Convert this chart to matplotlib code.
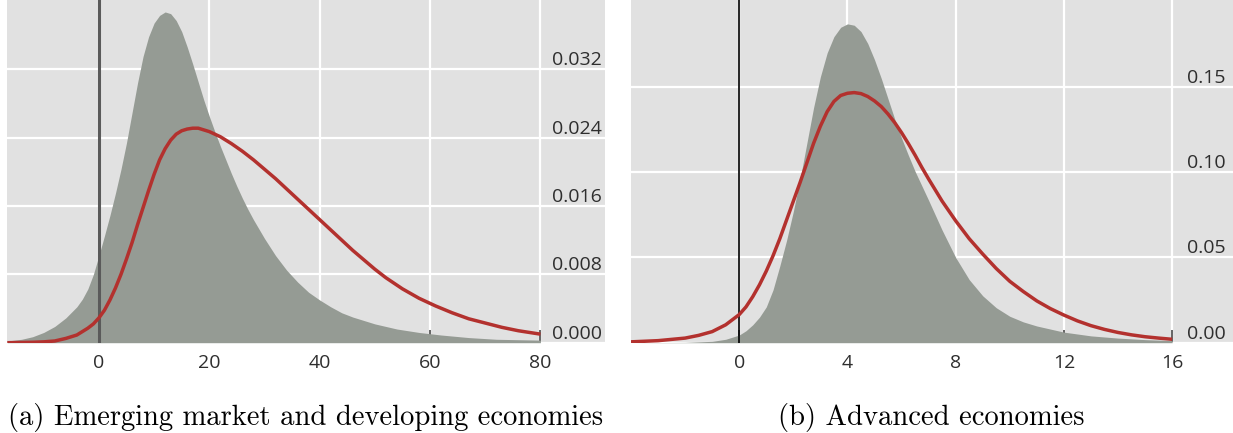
import matplotlib
matplotlib.use("Agg")
import matplotlib.pyplot as plt

# densidades (a): economias emergentes
em_x_fill = [-16.6, -14, -12, -10, -8, -6, -4, -3, -2, -1, 0, 1, 2, 3, 4, 5, 6, 7, 8, 9, 10, 11,
             12, 13, 14, 15, 16, 17, 18, 19, 20, 21, 22, 23, 24, 25, 26, 27, 28, 29, 30, 32, 34,
             36, 38, 40, 42, 44, 46, 48, 50, 54, 58, 62, 67, 72, 80]
em_fill = [0.0002, 0.0004, 0.0007, 0.0012, 0.0019, 0.0029, 0.0042, 0.0051, 0.0063, 0.0080, 0.0102,
           0.0125, 0.0149, 0.0175, 0.0203, 0.0234, 0.0269, 0.0304, 0.0335, 0.0358, 0.0374, 0.0383,
           0.0387, 0.0385, 0.0377, 0.0364, 0.0346, 0.0326, 0.0305, 0.0284, 0.0265, 0.0247, 0.0230,
           0.0214, 0.0198, 0.0183, 0.0169, 0.0156, 0.0144, 0.0133, 0.0122, 0.0102, 0.0085, 0.0071,
           0.0059, 0.0050, 0.0042, 0.0035, 0.0030, 0.0026, 0.0022, 0.0016, 0.0012, 0.0009, 0.0006,
           0.0004, 0.0003]
em_x_line = [-16.6, -12, -10, -8, -6, -4, -2, -1, 0, 1, 2, 3, 4, 5, 6, 7, 8, 9, 10, 11, 12, 13, 14,
             15, 16, 17, 18, 19, 20, 22, 24, 26, 28, 30, 32, 34, 36, 38, 40, 42, 44, 46, 48, 50, 52,
             55, 58, 61, 64, 67, 70, 73, 76, 80]
em_line = [0.0000, 0.00005, 0.0001, 0.0002, 0.0005, 0.0009, 0.0017, 0.0022, 0.0029, 0.0038, 0.0050,
           0.0064, 0.0080, 0.0098, 0.0117, 0.0138, 0.0158, 0.0178, 0.0197, 0.0214, 0.0227, 0.0237,
           0.0244, 0.0248, 0.0250, 0.0251, 0.0251, 0.0249, 0.0247, 0.0241, 0.0233, 0.0224, 0.0214,
           0.0203, 0.0192, 0.0180, 0.0168, 0.0156, 0.0144, 0.0132, 0.0120, 0.0108, 0.0097, 0.0086,
           0.0076, 0.0063, 0.0052, 0.0043, 0.0035, 0.0028, 0.0023, 0.0018, 0.0014, 0.0010]

# figura (b): economias avancadas
ae_x_fill = [-4, -3, -2, -1, -0.5, 0, 0.25, 0.5, 0.75, 1, 1.25, 1.5, 1.75, 2, 2.25, 2.5, 2.75, 3,
             3.25, 3.5, 3.75, 4, 4.25, 4.5, 4.75, 5, 5.25, 5.5, 5.75, 6, 6.25, 6.5, 6.75, 7, 7.5, 8,
             8.5, 9, 9.5, 10, 10.5, 11, 12, 13, 14, 15, 16]
ae_fill = [0.0000, 0.0001, 0.0002, 0.0008, 0.0020, 0.0045, 0.0070, 0.0105, 0.0150, 0.0210, 0.0310,
           0.0450, 0.0600, 0.0770, 0.0960, 0.1170, 0.1380, 0.1560, 0.1700, 0.1795, 0.1850, 0.1870,
           0.1862, 0.1825, 0.1755, 0.1660, 0.1550, 0.1430, 0.1310, 0.1200, 0.1100, 0.1005, 0.0920,
           0.0835, 0.0660, 0.0500, 0.0370, 0.0275, 0.0205, 0.0155, 0.0122, 0.0098, 0.0062, 0.0040,
           0.0027, 0.0018, 0.0012]
ae_x_line = [-4, -3, -2, -1.5, -1, -0.5, 0, 0.25, 0.5, 0.75, 1, 1.25, 1.5, 1.75, 2, 2.25, 2.5, 2.75,
             3, 3.25, 3.5, 3.75, 4, 4.25, 4.5, 4.75, 5, 5.25, 5.5, 5.75, 6, 6.25, 6.5, 6.75, 7, 7.5,
             8, 8.5, 9, 9.5, 10, 10.5, 11, 11.5, 12, 12.5, 13, 13.5, 14, 14.5, 15, 15.5, 16]
ae_line = [0.0005, 0.0012, 0.0027, 0.0043, 0.0065, 0.0105, 0.0165, 0.0210, 0.0270, 0.0340, 0.0420,
           0.0510, 0.0610, 0.0720, 0.0830, 0.0940, 0.1055, 0.1170, 0.1270, 0.1355, 0.1415, 0.1450,
           0.1463, 0.1467, 0.1461, 0.1444, 0.1418, 0.1385, 0.1341, 0.1290, 0.1232, 0.1168, 0.1100,
           0.1028, 0.0960, 0.0830, 0.0715, 0.0610, 0.0520, 0.0435, 0.0360, 0.0300, 0.0245, 0.0200,
           0.0162, 0.0128, 0.0100, 0.0078, 0.0060, 0.0046, 0.0035, 0.0027, 0.0020]

em_xticks = [0, 20, 40, 60, 80]
em_yticks = [0.0, 0.008, 0.016, 0.024, 0.032]
em_ylabels = ['0.000', '0.008', '0.016', '0.024', '0.032']
ae_xticks = [0, 4, 8, 12, 16]
ae_yticks = [0.0, 0.05, 0.10, 0.15]
ae_ylabels = ['0.00', '0.05', '0.10', '0.15']

bg = '#e1e1e1'
cinza = '#959b94'
vermelho = '#b3312e'

W, H = 1233, 433
fig = plt.figure(figsize=(W / 100, H / 100), dpi=100)
ax1 = fig.add_axes([7.3 / W, 90.3 / H, 597.7 / W, 342.7 / H])
ax2 = fig.add_axes([631 / W, 90.3 / H, 602 / W, 342.7 / H])


def desenha(ax, xf, yf, xl, yl, xt, yt, ylab, xlim, ylim, cor_v, lw_v, pad_y):
    ax.set_facecolor(bg)
    ax.fill_between(xf, 0, yf, color=cinza, lw=0, zorder=2)
    ax.axvline(0, color=cor_v, lw=lw_v, zorder=2.5)
    ax.plot(xl, yl, color=vermelho, lw=2.5, zorder=3, solid_capstyle='butt')
    ax.set_xlim(*xlim)
    ax.set_ylim(*ylim)
    ax.set_xticks(xt)
    ax.set_xticklabels([str(v) for v in xt])
    ax.set_yticks(yt)
    ax.set_yticklabels(ylab)
    ax.yaxis.tick_right()
    ax.grid(True, color='white', lw=1.6)
    ax.set_axisbelow(True)
    for s in ax.spines.values():
        s.set_visible(False)
    ax.tick_params(axis='x', direction='in', length=9.5, width=1.1, color='#3a3a3a',
                   pad=8, labelsize=14, labelcolor='#2e2e2e')
    ax.tick_params(axis='y', length=0, pad=pad_y, labelsize=14, labelcolor='#2e2e2e')
    for lab in ax.get_yticklabels():
        lab.set_va('bottom')
        lab.set_ha('left')
    for lab in ax.get_xticklabels() + ax.get_yticklabels():
        lab.set_fontfamily('Open Sans')


desenha(ax1, em_x_fill, em_fill, em_x_line, em_line, em_xticks, em_yticks, em_ylabels,
        (-16.6, 91.7), (0, 0.0401), '#5a5a5a', 2.2, -38.4)
desenha(ax2, ae_x_fill, ae_fill, ae_x_line, ae_line, ae_xticks, ae_yticks, ae_ylabels,
        (-4, 18.25), (0, 0.201), 'black', 1.2, -33.1)

fig.text(306 / W, 1 - 417 / H, '(a) Emerging market and developing economies',
         fontfamily='cmr10', fontsize=20.6, ha='center', va='center')
fig.text(931 / W, 1 - 417 / H, '(b) Advanced economies',
         fontfamily='cmr10', fontsize=20.6, ha='center', va='center')

fig.savefig('out.png', dpi=100)
